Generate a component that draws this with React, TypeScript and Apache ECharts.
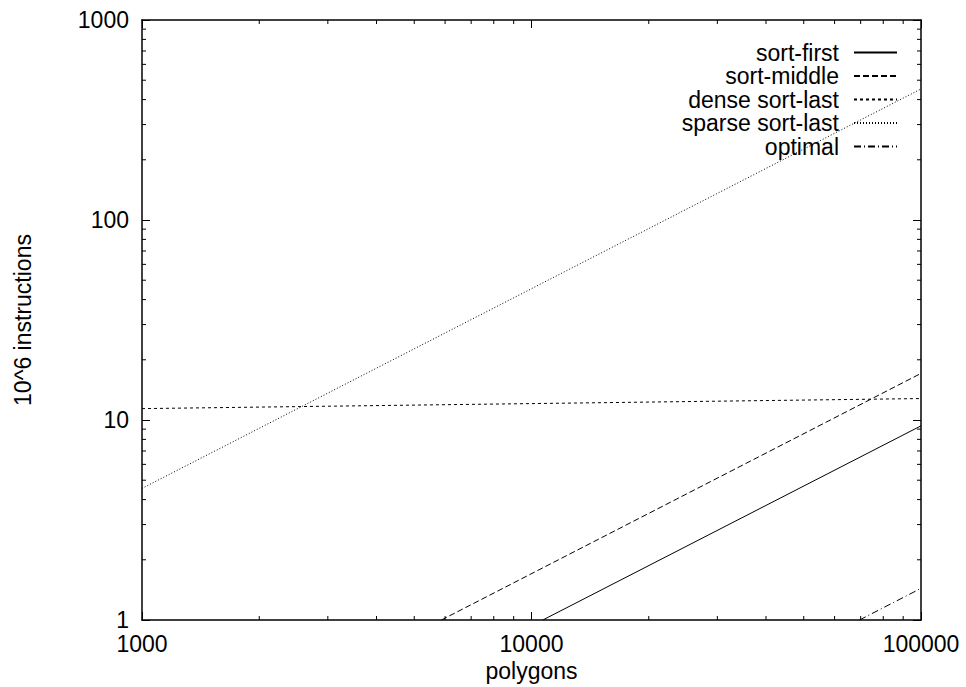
import React, { useEffect, useRef } from "react";
import * as echarts from "echarts";

const xTickLabels = ["1000", "10000", "100000"];
const yTickLabels = ["1", "10", "100", "1000"];
const xMinorTicks = [2000, 3000, 4000, 5000, 6000, 7000, 8000, 9000, 20000, 30000, 40000, 50000, 60000, 70000, 80000, 90000];
const yMinorTicks = [2, 3, 4, 5, 6, 7, 8, 9, 20, 30, 40, 50, 60, 70, 80, 90, 200, 300, 400, 500, 600, 700, 800, 900];

const sortFirst: [number, number][] = [[10690, 1], [100000, 9.35]];
const sortMiddle: [number, number][] = [[5870, 1], [100000, 17.1]];
const denseSortLast: [number, number][] = [[1000, 11.4], [100000, 12.8]];
const sparseSortLast: [number, number][] = [[1000, 4.55], [100000, 452]];
const optimal: [number, number][] = [[69500, 1], [100000, 1.44]];

const FONT = "Liberation Sans, Arial, sans-serif";
const FS = 23;
const X_MIN = 1000, X_MAX = 100000, Y_MIN = 1, Y_MAX = 1000;

export default function App() {
  const ref = useRef<HTMLDivElement>(null);
  useEffect(() => {
    if (!ref.current) return;
    const chart = echarts.init(ref.current, undefined, { renderer: "svg" });
    const axisLine = { show: true, onZero: false, lineStyle: { color: "#000", width: 1.5 } };
    const tick = { show: true, inside: true, length: 8, lineStyle: { color: "#000", width: 1 } };
    const lab = { color: "#000", fontFamily: FONT, fontSize: FS };
    const mkSeries = (name: string, data: [number, number][], type: any) => ({
      name,
      type: "line",
      data,
      symbol: "none",
      showSymbol: false,
      clip: true,
      lineStyle: { color: "#000", width: 1, type },
      itemStyle: { color: "#000" },
    });
    const tickStyle = { stroke: "#000", lineWidth: 1 };
    const ML = 4;
    chart.setOption({
      animation: false,
      backgroundColor: "#fff",
      textStyle: { fontFamily: FONT },
      grid: { left: 142, right: 45, top: 20, bottom: 67, containLabel: false, outerBoundsMode: "none" },
      legend: {
        orient: "vertical",
        right: 68,
        top: 41,
        padding: 0,
        align: "right",
        itemWidth: 43,
        itemHeight: 14,
        itemGap: 0.5,
        itemStyle: { opacity: 0 },
        textStyle: { ...lab, padding: [0, 10, 0, 0], lineHeight: 23 },
        data: ["sort-first", "sort-middle", "dense sort-last", "sparse sort-last", "optimal"],
      },
      xAxis: [
        {
          type: "log",
          logBase: 10,
          min: X_MIN,
          max: X_MAX,
          position: "bottom",
          name: "polygons",
          nameLocation: "middle",
          nameGap: 36,
          nameTextStyle: lab,
          axisLine,
          axisTick: tick,
          splitLine: { show: false },
          axisLabel: {
            ...lab,
            margin: 12,
            formatter: (v: number) => {
              const s = String(Math.round(v));
              return xTickLabels.includes(s) ? s : "";
            },
          },
        },
        {
          type: "log",
          logBase: 10,
          min: X_MIN,
          max: X_MAX,
          position: "top",
          axisLine,
          axisTick: tick,
          splitLine: { show: false },
          axisLabel: { show: false },
        },
      ],
      yAxis: [
        {
          type: "log",
          logBase: 10,
          min: Y_MIN,
          max: Y_MAX,
          position: "left",
          name: "10^6 instructions",
          nameLocation: "middle",
          nameGap: 108,
          nameTextStyle: lab,
          axisLine,
          axisTick: tick,
          splitLine: { show: false },
          axisLabel: {
            ...lab,
            margin: 13,
            formatter: (v: number) => {
              const s = String(Math.round(v));
              return yTickLabels.includes(s) ? s : "";
            },
          },
        },
        {
          type: "log",
          logBase: 10,
          min: Y_MIN,
          max: Y_MAX,
          position: "right",
          axisLine,
          axisTick: tick,
          splitLine: { show: false },
          axisLabel: { show: false },
        },
      ],
      series: [
        mkSeries("sort-first", sortFirst, "solid"),
        mkSeries("sort-middle", sortMiddle, [6, 3]),
        mkSeries("dense sort-last", denseSortLast, [3, 3]),
        mkSeries("sparse sort-last", sparseSortLast, [1, 2]),
        mkSeries("optimal", optimal, [7, 3, 1, 3]),
        {
          type: "custom",
          silent: true,
          clip: false,
          data: xMinorTicks.map((v) => [v, Y_MIN]),
          renderItem: (_p: any, api: any) => {
            const v = api.value(0);
            const b = api.coord([v, Y_MIN]);
            const t = api.coord([v, Y_MAX]);
            return {
              type: "group",
              children: [
                { type: "line", shape: { x1: b[0], y1: b[1], x2: b[0], y2: b[1] - ML }, style: tickStyle },
                { type: "line", shape: { x1: t[0], y1: t[1], x2: t[0], y2: t[1] + ML }, style: tickStyle },
              ],
            };
          },
        },
        {
          type: "custom",
          silent: true,
          clip: false,
          data: yMinorTicks.map((v) => [X_MIN, v]),
          renderItem: (_p: any, api: any) => {
            const v = api.value(1);
            const l = api.coord([X_MIN, v]);
            const r = api.coord([X_MAX, v]);
            return {
              type: "group",
              children: [
                { type: "line", shape: { x1: l[0], y1: l[1], x2: l[0] + ML, y2: l[1] }, style: tickStyle },
                { type: "line", shape: { x1: r[0], y1: r[1], x2: r[0] - ML, y2: r[1] }, style: tickStyle },
              ],
            };
          },
        },
      ],
    });
    return () => chart.dispose();
  }, []);
  return (
    <div
      ref={ref}
      style={{ position: "fixed", left: 0, top: 0, width: 966, height: 687, background: "#fff" }}
    />
  );
}
